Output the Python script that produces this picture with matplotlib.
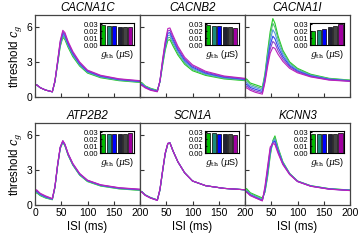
import numpy as np
import matplotlib
matplotlib.use('Agg')
import matplotlib.pyplot as plt

plt.rcParams['font.family'] = ['Liberation Sans', 'DejaVu Sans']
plt.rcParams['mathtext.fontset'] = 'dejavuserif'

# ISI grid (ms) shared by every curve
isi = [0, 3, 10, 20, 33, 38, 43, 48, 53, 57, 63, 72, 85, 100, 125, 160, 200]

genes = ['CACNA1C', 'CACNB2', 'CACNA1I', 'ATP2B2', 'SCN1A', 'KCNN3']

# threshold c_g, six curves per gene (green -> magenta)
cacna1c = [
    [0.95, 1.05, 0.80, 0.60, 0.45, 1.30, 2.80, 4.30, 5.10, 4.90, 4.25, 3.45, 2.65, 2.05, 1.65, 1.40, 1.25],
    [0.95, 1.05, 0.80, 0.60, 0.45, 1.32, 2.85, 4.40, 5.22, 5.02, 4.35, 3.55, 2.72, 2.10, 1.70, 1.44, 1.28],
    [0.95, 1.05, 0.80, 0.60, 0.45, 1.34, 2.90, 4.50, 5.34, 5.14, 4.45, 3.63, 2.78, 2.15, 1.74, 1.47, 1.31],
    [0.95, 1.05, 0.80, 0.60, 0.45, 1.36, 2.95, 4.60, 5.46, 5.26, 4.55, 3.72, 2.85, 2.20, 1.78, 1.50, 1.34],
    [0.95, 1.05, 0.80, 0.60, 0.45, 1.38, 3.00, 4.70, 5.58, 5.38, 4.65, 3.80, 2.92, 2.25, 1.82, 1.53, 1.37],
    [0.95, 1.05, 0.80, 0.60, 0.45, 1.40, 3.05, 4.80, 5.70, 5.50, 4.75, 3.90, 3.00, 2.30, 1.86, 1.56, 1.40],
]
cacnb2 = [
    [1.20, 1.25, 0.95, 0.75, 0.58, 1.30, 2.70, 4.00, 4.85, 4.90, 4.35, 3.60, 2.80, 2.25, 1.85, 1.55, 1.40],
    [1.15, 1.20, 0.92, 0.72, 0.55, 1.32, 2.80, 4.15, 5.05, 5.10, 4.55, 3.75, 2.92, 2.35, 1.92, 1.60, 1.44],
    [1.10, 1.15, 0.88, 0.68, 0.52, 1.34, 2.90, 4.30, 5.25, 5.30, 4.72, 3.90, 3.03, 2.45, 1.98, 1.65, 1.48],
    [1.05, 1.10, 0.85, 0.65, 0.50, 1.36, 3.00, 4.45, 5.45, 5.50, 4.90, 4.05, 3.15, 2.55, 2.05, 1.70, 1.52],
    [1.00, 1.05, 0.82, 0.62, 0.48, 1.38, 3.10, 4.60, 5.65, 5.70, 5.08, 4.20, 3.27, 2.65, 2.12, 1.75, 1.56],
    [0.95, 1.00, 0.78, 0.58, 0.45, 1.40, 3.20, 4.75, 5.85, 5.90, 5.25, 4.35, 3.40, 2.75, 2.20, 1.80, 1.60],
]
cacna1i = [
    [1.45, 1.55, 1.20, 1.05, 0.85, 2.00, 3.90, 5.60, 6.70, 6.30, 5.20, 4.00, 3.00, 2.45, 1.95, 1.60, 1.45],
    [1.30, 1.40, 1.08, 0.92, 0.73, 1.85, 3.65, 5.25, 6.30, 5.95, 4.95, 3.85, 2.90, 2.38, 1.90, 1.57, 1.42],
    [1.15, 1.25, 0.95, 0.80, 0.60, 1.70, 3.40, 4.85, 5.75, 5.45, 4.60, 3.65, 2.78, 2.30, 1.85, 1.54, 1.40],
    [1.00, 1.10, 0.82, 0.66, 0.48, 1.55, 3.10, 4.45, 5.20, 4.98, 4.25, 3.45, 2.67, 2.22, 1.80, 1.51, 1.38],
    [0.85, 0.95, 0.70, 0.52, 0.37, 1.40, 2.85, 4.10, 4.75, 4.58, 3.95, 3.25, 2.57, 2.15, 1.76, 1.48, 1.36],
    [0.70, 0.80, 0.58, 0.40, 0.25, 1.25, 2.60, 3.75, 4.25, 4.15, 3.65, 3.05, 2.45, 2.07, 1.72, 1.45, 1.34],
]
atp2b2 = [
    [0.95, 1.05, 0.80, 0.60, 0.45, 1.50, 3.30, 4.80, 5.35, 5.05, 4.25, 3.40, 2.55, 2.00, 1.62, 1.38, 1.25],
    [1.00, 1.10, 0.84, 0.63, 0.47, 1.52, 3.33, 4.83, 5.38, 5.08, 4.28, 3.43, 2.58, 2.03, 1.65, 1.40, 1.27],
    [1.05, 1.15, 0.88, 0.66, 0.49, 1.54, 3.36, 4.86, 5.41, 5.11, 4.31, 3.46, 2.61, 2.06, 1.67, 1.42, 1.29],
    [1.10, 1.20, 0.92, 0.70, 0.51, 1.56, 3.39, 4.89, 5.44, 5.14, 4.34, 3.49, 2.64, 2.08, 1.69, 1.44, 1.31],
    [1.15, 1.25, 0.96, 0.74, 0.53, 1.58, 3.42, 4.92, 5.47, 5.17, 4.37, 3.52, 2.67, 2.10, 1.71, 1.46, 1.33],
    [1.20, 1.30, 1.00, 0.78, 0.55, 1.60, 3.45, 4.95, 5.50, 5.20, 4.40, 3.55, 2.70, 2.12, 1.73, 1.48, 1.35],
]
scn1a = [
    [1.07, 1.17, 0.87, 0.64, 0.44, 1.26, 2.84, 4.34, 5.22, 5.30, 4.60, 3.70, 2.75, 2.05, 1.65, 1.42, 1.30],
    [1.06, 1.16, 0.86, 0.63, 0.43, 1.28, 2.86, 4.36, 5.23, 5.30, 4.60, 3.70, 2.75, 2.05, 1.65, 1.42, 1.30],
    [1.05, 1.15, 0.85, 0.62, 0.42, 1.30, 2.88, 4.38, 5.24, 5.30, 4.60, 3.70, 2.75, 2.05, 1.65, 1.42, 1.30],
    [1.04, 1.14, 0.84, 0.61, 0.41, 1.32, 2.90, 4.40, 5.25, 5.30, 4.60, 3.70, 2.75, 2.05, 1.65, 1.42, 1.30],
    [1.03, 1.13, 0.83, 0.60, 0.40, 1.34, 2.92, 4.42, 5.26, 5.30, 4.60, 3.70, 2.75, 2.05, 1.65, 1.42, 1.30],
    [1.02, 1.12, 0.82, 0.59, 0.39, 1.36, 2.94, 4.44, 5.27, 5.30, 4.60, 3.70, 2.75, 2.05, 1.65, 1.42, 1.30],
]
kcnn3 = [
    [1.30, 1.40, 1.05, 0.85, 0.60, 1.10, 2.40, 4.20, 5.50, 5.90, 4.90, 3.70, 2.70, 2.05, 1.65, 1.40, 1.28],
    [1.20, 1.30, 0.98, 0.78, 0.52, 1.15, 2.55, 4.35, 5.45, 5.75, 4.80, 3.65, 2.68, 2.04, 1.64, 1.39, 1.27],
    [1.10, 1.20, 0.90, 0.70, 0.45, 1.20, 2.70, 4.50, 5.40, 5.60, 4.70, 3.60, 2.66, 2.03, 1.63, 1.38, 1.26],
    [1.05, 1.15, 0.86, 0.65, 0.40, 1.30, 2.90, 4.65, 5.35, 5.45, 4.60, 3.55, 2.64, 2.02, 1.62, 1.37, 1.25],
    [1.02, 1.12, 0.83, 0.62, 0.37, 1.45, 3.10, 4.80, 5.30, 5.30, 4.50, 3.50, 2.62, 2.01, 1.61, 1.36, 1.24],
    [1.00, 1.10, 0.80, 0.60, 0.35, 1.60, 3.30, 4.95, 5.25, 5.15, 4.40, 3.45, 2.60, 2.00, 1.60, 1.35, 1.23],
]
curves = [cacna1c, cacnb2, cacna1i, atp2b2, scn1a, kcnn3]

# g_th (uS) bars for the insets
gth_cacna1c = [0.0290, 0.0280, 0.0272, 0.0268, 0.0262, 0.0258]
gth_cacnb2 = [0.0288, 0.0278, 0.0272, 0.0266, 0.0262, 0.0254]
gth_cacna1i = [0.0212, 0.0222, 0.0240, 0.0262, 0.0282, 0.0310]
gth_atp2b2 = [0.0280, 0.0280, 0.0281, 0.0282, 0.0284, 0.0288]
gth_scn1a = [0.0292, 0.0286, 0.0280, 0.0276, 0.0272, 0.0266]
gth_kcnn3 = [0.0282, 0.0280, 0.0280, 0.0280, 0.0281, 0.0290]
gths = [gth_cacna1c, gth_cacnb2, gth_cacna1i, gth_atp2b2, gth_scn1a, gth_kcnn3]

line_colors = ['#22cc22', '#55bb77', '#5599dd', '#3344ee', '#8844cc', '#bb22bb']
bar_colors = ['#00bb00', '#1a8a78', '#0000ff', '#222233', '#444444', '#a000a0']

fig = plt.figure(figsize=(3.59, 2.47), dpi=100)

lefts = [0.0975, 0.390, 0.6825]
bottoms = [0.607, 0.170]
w, h = 0.2925, 0.332

for k, gene in enumerate(genes):
    row, col = divmod(k, 3)
    ax = fig.add_axes([lefts[col], bottoms[row], w, h])
    for c, y in enumerate(curves[k]):
        ax.plot(isi, y, color=line_colors[c], lw=0.8)
    ax.set_xlim(0, 200)
    ax.set_ylim(0, 7)
    ax.set_xticks([0, 50, 100, 150, 200])
    ax.set_yticks([0, 3, 6])
    ax.tick_params(direction='in', length=3, labelsize=7.5, pad=2, color='#333333')
    for s in ax.spines.values():
        s.set_color('#444444')
        s.set_linewidth(0.9)
    ax.set_title(gene, fontsize=8.3, style='italic', pad=3)
    if col == 0:
        ax.set_ylabel('threshold $c_g$', fontsize=8.3, labelpad=2)
    else:
        ax.set_yticklabels([])
    if row == 1:
        ax.set_xlabel('ISI (ms)', fontsize=8.3, labelpad=2)
        if col > 0:
            ax.set_xticklabels(['', '50', '100', '150', '200'])
    else:
        ax.set_xticklabels([])

    ins = ax.inset_axes([0.62, 0.634, 0.32, 0.272])
    ins.bar(range(6), gths[k], width=0.75, color=bar_colors, edgecolor='black', lw=0.5)
    ins.set_xlim(-0.6, 5.6)
    ins.set_ylim(0, 0.0325)
    ins.set_xticks([])
    ins.set_yticks([0, 0.01, 0.02, 0.03])
    ins.set_yticklabels(['0.00', '0.01', '0.02', '0.03'])
    ins.tick_params(direction='in', length=1.5, labelsize=5.5, pad=1)
    ins.set_xlabel(r'$g_{\rm th}$ ($\mu$S)', fontsize=6.5, labelpad=2)
    for s in ins.spines.values():
        s.set_linewidth(0.8)

fig.savefig('out.png', dpi=100)
